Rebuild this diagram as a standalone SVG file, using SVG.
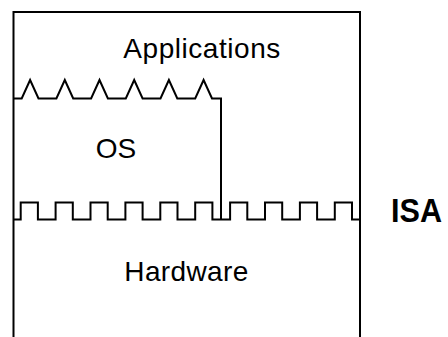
<svg xmlns="http://www.w3.org/2000/svg" width="448" height="337" viewBox="0 0 448 337">
<style>
.ln{fill:none;stroke:#000;stroke-width:2;stroke-linejoin:miter}
.lbl{font-family:"Liberation Sans",Arial,sans-serif;font-size:28px;fill:#000}
.isa{font-family:"Liberation Sans",Arial,sans-serif;font-size:33px;font-weight:bold;fill:#000}
</style>
<rect width="448" height="337" fill="#fff"/>
<g id="connectors">
<path class="ln" d="M13.5,337 V12 H360 V337"/>
<path class="ln" d="M13.5,98.5 H21.7 L30.1,80 L38.5,98.5 H56.4 L64.8,80 L73.2,98.5 H91.1 L99.5,80 L107.9,98.5 H125.8 L134.2,80 L142.6,98.5 H160.5 L168.9,80 L177.3,98.5 H195.2 L203.6,80 L212,98.5 H221 V219.5"/>
<path class="ln" d="M13.5,219.5 H20.7 V202.5 H37.9 V219.5 H55.6 V202.5 H72.8 V219.5 H90.5 V202.5 H107.7 V219.5 H125.4 V202.5 H142.6 V219.5 H160.3 V202.5 H177.5 V219.5 H195.2 V202.5 H212.4 V219.5 H230.1 V202.5 H247.3 V219.5 H265 V202.5 H282.2 V219.5 H299.9 V202.5 H317.1 V219.5 H334.8 V202.5 H352 V219.5 H360"/>
</g>
<g id="applications"><text class="lbl" x="123.3" y="57.5" textLength="157" lengthAdjust="spacing">Applications</text></g>
<g id="os"><text class="lbl" x="95.7" y="158.3">OS</text></g>
<g id="hardware"><text class="lbl" x="124.3" y="281" textLength="124" lengthAdjust="spacing">Hardware</text></g>
<g id="isa"><text class="isa" x="391" y="222" textLength="51" lengthAdjust="spacingAndGlyphs">ISA</text></g>
</svg>
